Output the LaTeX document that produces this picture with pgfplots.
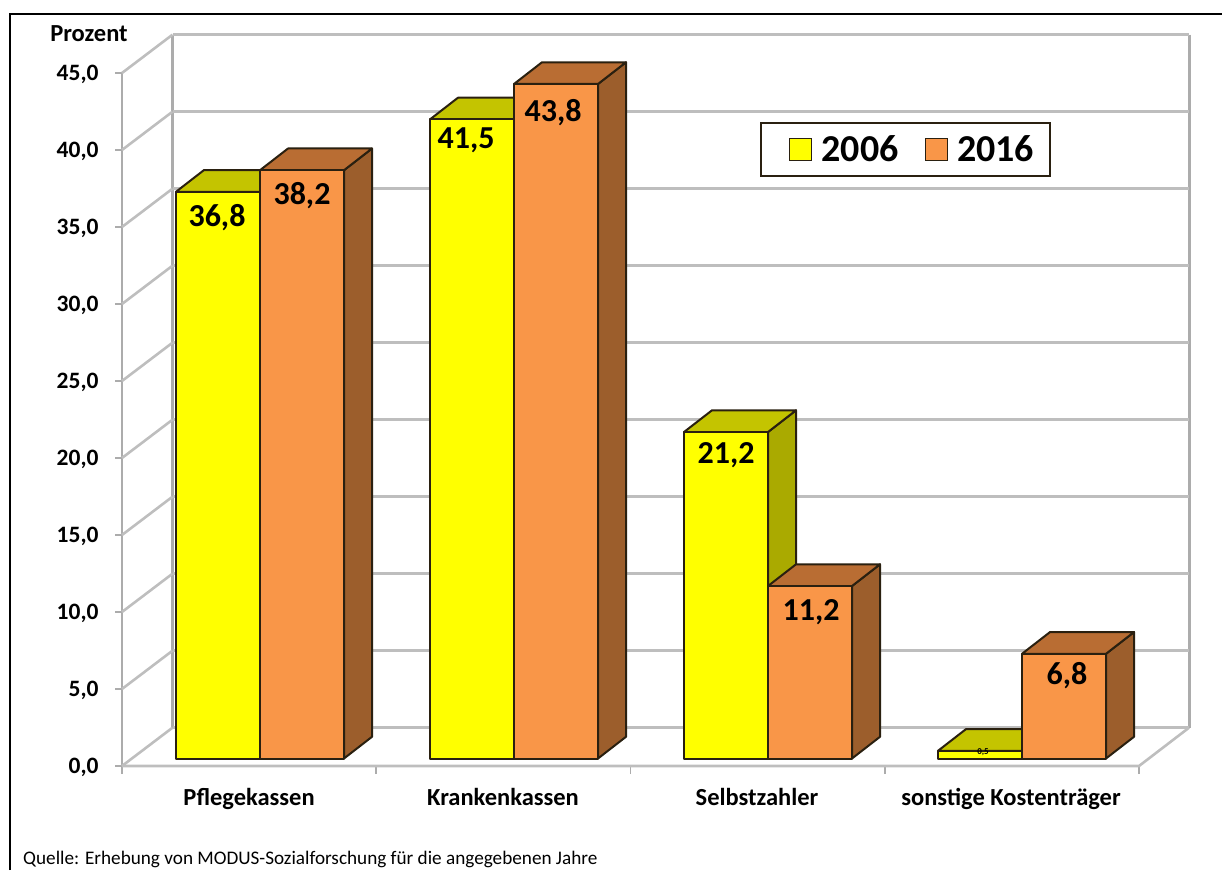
\documentclass[border=0pt]{standalone}
\usepackage{fontspec}
\setmainfont{Carlito}
\usepackage{pgfplots}
\pgfplotsset{compat=1.18}
\definecolor{wall}{HTML}{ACACAC}
\definecolor{wallfine}{HTML}{BEBEBE}
\definecolor{edge}{HTML}{2A2010}
\definecolor{yfront}{HTML}{FFFF00}
\definecolor{ytop}{HTML}{C4C400}
\definecolor{yside}{HTML}{AAAA00}
\definecolor{ofront}{HTML}{F99648}
\definecolor{otop}{HTML}{B96D33}
\definecolor{oside}{HTML}{9C5E2C}

% one box: left x, value, front/top/side colours (x in px, depth 28px = 1.41 units)
\newcommand{\boxbar}[5]{%
  \pgfmathsetmacro{\xb}{#1+84}%
  \pgfmathsetmacro{\xc}{#1+28}%
  \pgfmathsetmacro{\xd}{#1+112}%
  \pgfmathsetmacro{\vt}{#2+1.41}%
  \edef\temp{%
    \noexpand\addplot[face,fill=#5] coordinates {(\xb,0) (\xd,1.41) (\xd,\vt) (\xb,#2)} --cycle;
    \noexpand\addplot[face,fill=#4] coordinates {(#1,#2) (\xc,\vt) (\xd,\vt) (\xb,#2)} --cycle;
    \noexpand\addplot[face,fill=#3] coordinates {(#1,0) (#1,#2) (\xb,#2) (\xb,0)} --cycle;
  }\temp}

\begin{document}
\begin{tikzpicture}[x=1pt,y=1pt]
\path[use as bounding box] (0,0) rectangle (1222,870);
\draw[black,line width=2pt] (10,0) -- (10,856) -- (1222,856);

% walls and axes, front plane: x in px, y in percent
\begin{axis}[
  at={(122pt,104pt)},anchor=south west,
  scale only axis,width=1017pt,height=693pt,
  xmin=122,xmax=1139,ymin=0,ymax=45,
  clip=false,
  axis lines=left,
  axis line style={-,draw=wall,line width=2.4pt},
  tick align=outside,
  major tick length=7pt,minor tick length=8pt,
  ytick={0,5,...,45},
  y tick style={draw=wall,line width=1.8pt},
  major x tick style={draw=none},
  minor x tick style={draw=wall,line width=1.8pt},
  xtick={249,503,757,1011},
  minor xtick={122,376.25,630.5,884.75,1139},
  xticklabels={Pflegekassen,Krankenkassen,Selbstzahler,sonstige Kostenträger},
  x tick label style={font=\bfseries\fontsize{24.5}{24.5}\selectfont,text height=16pt,text depth=6pt,yshift=-13pt},
  y tick label style={font=\bfseries\fontsize{23.5}{23.5}\selectfont,xshift=-13pt,yshift=-1pt},
  /pgf/number format/.cd,use comma,fixed,fixed zerofill,precision=1,assume math mode=true,
  /pgfplots/.cd,
  no markers,
]
\addplot[wall,line width=2.4pt] coordinates {(122,0) (122,45)};
\addplot[wall,line width=3pt] coordinates {(172.5,47.487) (172.5,2.487)};
\addplot[wall,line width=3pt] coordinates {(1189,47.487) (1189,2.487)};
\foreach \v in {0,5,...,45}{
  \edef\temp{%
    \noexpand\addplot[wallfine,line width=2.6pt] coordinates {(122,\v) (172.5,\v+2.487)};
    \noexpand\addplot[wallfine,line width=2.6pt] coordinates {(172.5,\v+2.487) (1189,\v+2.487)};
  }\temp}
\addplot[wallfine,line width=2.6pt] coordinates {(122,0) (1139,0) (1189,2.487)};
\end{axis}

% bars, plane 9px further back: x in px, y in percent
\begin{axis}[
  at={(131pt,111.5pt)},anchor=south west,
  scale only axis,width=1017pt,height=693pt,
  xmin=131,xmax=1148,ymin=0,ymax=45,
  clip=false,hide axis,no markers,
  face/.style={draw=edge,line width=2pt,line join=round,forget plot},
  legend columns=2,
  legend style={at={(axis cs:905.5,39.55)},anchor=center,draw=edge,line width=1.8pt,
    font=\bfseries\fontsize{38}{38}\selectfont,inner xsep=14pt,inner ysep=11pt,
    /tikz/column 1/.style={column sep=7pt},
    /tikz/column 2/.style={column sep=10pt},
    /tikz/column 3/.style={column sep=7pt}},
  legend image code/.code={\path (0pt,0pt); \draw[#1,line width=1.5pt] (14pt,-11pt) rectangle (36pt,11pt);},
]
\boxbar{176}{36.8}{yfront}{ytop}{yside}
\boxbar{260}{38.2}{ofront}{otop}{oside}
\boxbar{430}{41.5}{yfront}{ytop}{yside}
\boxbar{514}{43.8}{ofront}{otop}{oside}
\boxbar{684}{21.2}{yfront}{ytop}{yside}
\boxbar{768}{11.2}{ofront}{otop}{oside}
\boxbar{938}{0.5}{yfront}{ytop}{yside}
\boxbar{1022}{6.8}{ofront}{otop}{oside}
\addlegendimage{draw=edge,fill=yfront}
\addlegendentry{2006}
\addlegendimage{draw=edge,fill=ofront}
\addlegendentry{2016}
\begin{scope}[font=\bfseries\fontsize{32}{32}\selectfont,yshift=-2.5pt]
\node at (axis cs:217,35.29) {36,8};
\node at (axis cs:302,36.72) {38,2};
\node at (axis cs:466,40.29) {41,5};
\node at (axis cs:553,42.11) {43,8};
\node at (axis cs:726,19.84) {21,2};
\node at (axis cs:811,9.64) {11,2};
\node at (axis cs:1067,5.55) {6,8};
\end{scope}
\node[font=\bfseries\fontsize{9}{9}\selectfont] at (axis cs:983,0.42) {0,5};
\end{axis}

\node[font=\bfseries\fontsize{24.5}{24.5}\selectfont,anchor=base] at (89,828) {Prozent};
\node[font=\fontsize{19.2}{19.2}\selectfont,anchor=base west,inner sep=0pt] at (23,6) {Quelle: Erhebung von MODUS-Sozialforschung für die angegebenen Jahre};
\end{tikzpicture}
\end{document}
